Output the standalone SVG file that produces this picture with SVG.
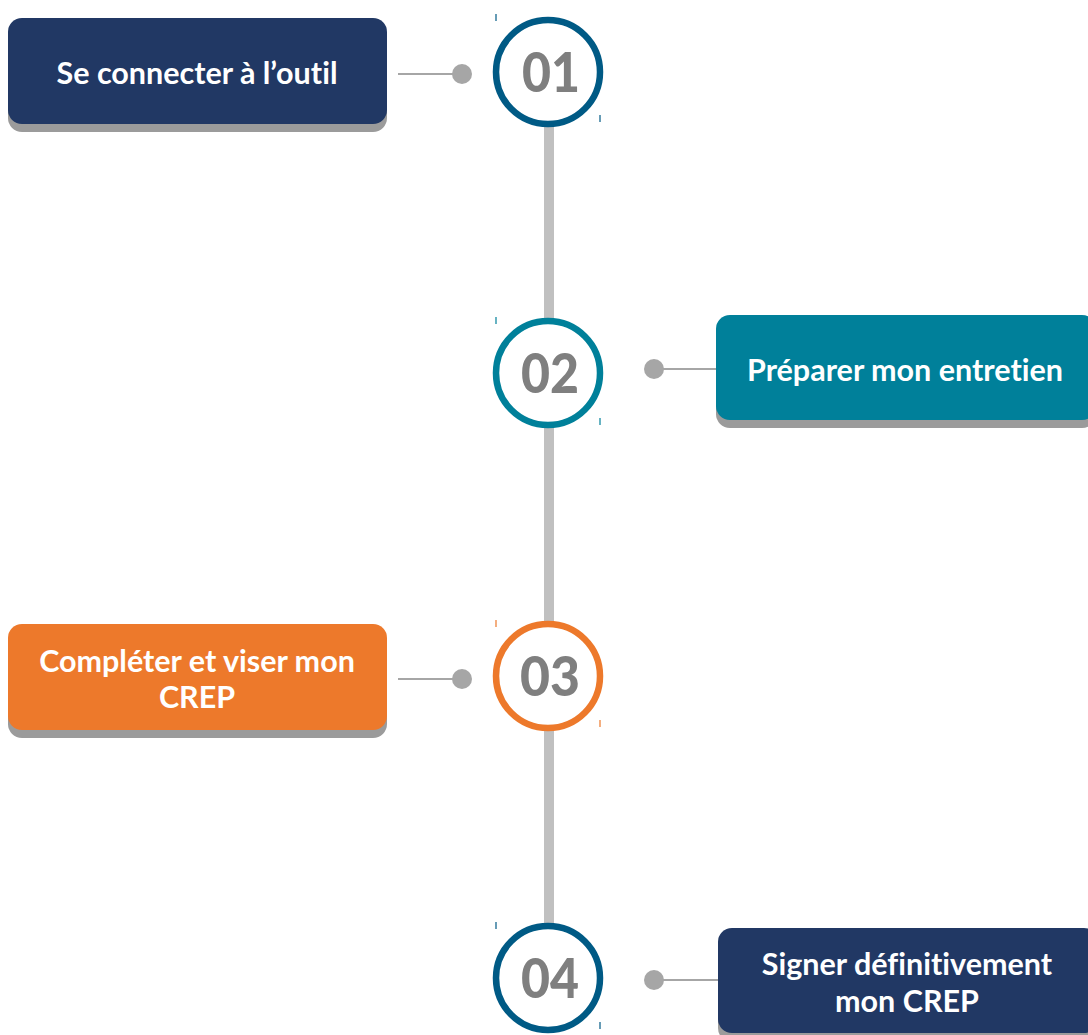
<svg xmlns="http://www.w3.org/2000/svg" width="1088" height="1035" viewBox="0 0 1088 1035">
<style>
.shadow{fill:#9b9b9b}
.lbl{font-family:Lato,"Liberation Sans",sans-serif;font-weight:bold;font-size:30.5px;fill:#ffffff;text-anchor:middle;font-variant-ligatures:none}
.num{font-family:Lato,"Liberation Sans",sans-serif;font-weight:900;font-size:55px;fill:#7f7f7f;text-anchor:middle}
.ring{fill:#ffffff;stroke-width:6.5}
.conn{stroke:#a6a6a6;stroke-width:2;fill:none}
.dot{fill:#a6a6a6}
.tick{stroke-width:1.2}
</style>
<rect width="1088" height="1035" fill="#ffffff"/>
<g id="connectors">
<rect x="544" y="120" width="10" height="810" fill="#c0c0c0"/>
<line class="conn" x1="398" y1="74" x2="462" y2="74"/>
<circle class="dot" cx="462" cy="74" r="10"/>
<line class="conn" x1="654" y1="369" x2="716" y2="369"/>
<circle class="dot" cx="654" cy="369" r="10"/>
<line class="conn" x1="398" y1="679" x2="462" y2="679"/>
<circle class="dot" cx="462" cy="679" r="10"/>
<line class="conn" x1="654" y1="980" x2="718" y2="980"/>
<circle class="dot" cx="654" cy="980" r="10"/>
</g>
<g id="step1">
<rect class="shadow" x="8" y="26" width="379" height="106" rx="14"/>
<rect x="8" y="18" width="379" height="106" rx="14" fill="#213864"/>
<text class="lbl" x="197" y="84">Se connecter à l’outil</text>
</g>
<g id="num1">
<line class="tick" x1="496" y1="14" x2="496" y2="21" stroke="#005a85"/>
<line class="tick" x1="600" y1="115" x2="600" y2="122" stroke="#005a85"/>
<circle class="ring" cx="548" cy="72" r="52" stroke="#005a85"/>
<text class="num" x="551" y="92" textLength="58" lengthAdjust="spacingAndGlyphs">01</text>
</g>
<g id="step2">
<rect class="shadow" x="716" y="323" width="380" height="105" rx="14"/>
<rect x="716" y="315" width="380" height="105" rx="14" fill="#00809a"/>
<text class="lbl" x="905" y="381">Préparer mon entretien</text>
</g>
<g id="num2">
<line class="tick" x1="496" y1="317" x2="496" y2="324" stroke="#00809a"/>
<line class="tick" x1="600" y1="418" x2="600" y2="425" stroke="#00809a"/>
<circle class="ring" cx="548" cy="373" r="52" stroke="#00809a"/>
<text class="num" x="550" y="393" textLength="58" lengthAdjust="spacingAndGlyphs">02</text>
</g>
<g id="step3">
<rect class="shadow" x="8" y="632" width="379" height="106" rx="14"/>
<rect x="8" y="624" width="379" height="106" rx="14" fill="#ed792b"/>
<text class="lbl" x="197" y="672">Compléter et viser mon</text>
<text class="lbl" x="197" y="708">CREP</text>
</g>
<g id="num3">
<line class="tick" x1="496" y1="620" x2="496" y2="627" stroke="#ed792b"/>
<line class="tick" x1="600" y1="720" x2="600" y2="727" stroke="#ed792b"/>
<circle class="ring" cx="548" cy="676" r="52" stroke="#ed792b"/>
<text class="num" x="550" y="696" textLength="60" lengthAdjust="spacingAndGlyphs">03</text>
</g>
<g id="step4">
<rect class="shadow" x="718" y="936" width="380" height="106" rx="14"/>
<rect x="718" y="928" width="380" height="105" rx="14" fill="#213864"/>
<text class="lbl" x="907" y="975">Signer définitivement</text>
<text class="lbl" x="907" y="1012">mon CREP</text>
</g>
<g id="num4">
<line class="tick" x1="496" y1="922" x2="496" y2="929" stroke="#005a85"/>
<line class="tick" x1="600" y1="1022" x2="600" y2="1029" stroke="#005a85"/>
<circle class="ring" cx="548" cy="978" r="52" stroke="#005a85"/>
<text class="num" x="550" y="998" textLength="58" lengthAdjust="spacingAndGlyphs">04</text>
</g>
</svg>
